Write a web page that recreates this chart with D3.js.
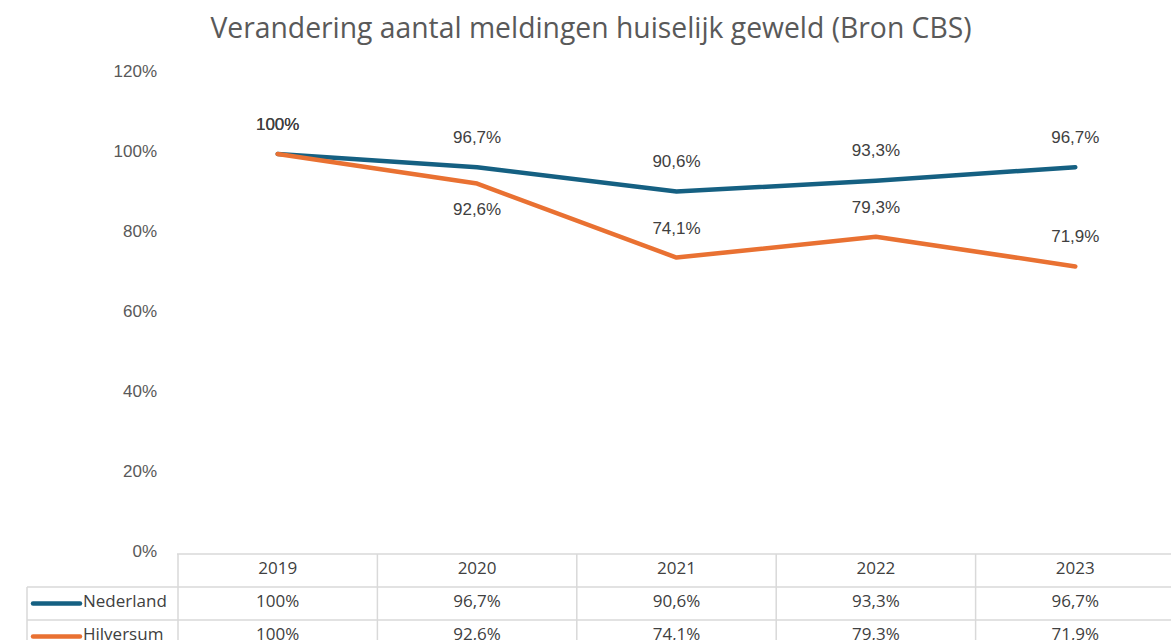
<!DOCTYPE html>
<html><head><meta charset="utf-8">
<script src="https://cdn.jsdelivr.net/npm/d3@7"></script>
<style>body{margin:0;background:#fff}svg{display:block}</style>
</head><body>
<svg id="c" width="1171" height="640"></svg>
<script>
const title = "Verandering aantal meldingen huiselijk geweld (Bron CBS)";
const years = ["2019","2020","2021","2022","2023"];
const nederland = [100, 96.7, 90.6, 93.3, 96.7];
const hilversum = [100, 92.6, 74.1, 79.3, 71.9];
const seriesNames = ["Nederland","Hilversum"];
const yTicks = [0,20,40,60,80,100,120];

(function(){
const svg = d3.select("#c");
const W = 1171, H = 640;
const pLeft = 178, pRight = 1175, pTop = 74, pBottom = 554;
const x = d3.scaleBand().domain(years).range([pLeft, pRight]);
const y = d3.scaleLinear().domain([0,120]).range([pBottom, pTop]);
const fmt = v => (v === 100 ? "100" : d3.format(".1f")(v).replace(".", ",")) + "%";
const colors = ["#156082", "#E97132"];
const series = [nederland, hilversum];

svg.append("text").attr("x", 591).attr("y", 38).attr("text-anchor","middle")
  .attr("font-family","'Open Sans', 'Noto Sans', sans-serif").attr("font-size", 28.3)
  .attr("fill","#595959").text(title);

const yAxis = d3.axisLeft(y).tickValues(yTicks).tickFormat(d => d + "%").tickSize(0).tickPadding(0);
const ga = svg.append("g").attr("transform", `translate(157,-3)`).call(yAxis);
ga.select(".domain").remove();
ga.selectAll("text").attr("font-family","'Liberation Sans', Arial, sans-serif")
  .attr("font-size", 17).attr("fill","#595959").attr("dy","0.35em");

const line = d3.line().x((d,i) => x(years[i]) + x.bandwidth()/2).y(d => y(d));
series.forEach((s, k) => {
  svg.append("path").datum(s).attr("d", line).attr("fill","none")
    .attr("stroke", colors[k]).attr("stroke-width", 4.5)
    .attr("stroke-linejoin","round").attr("stroke-linecap","round");
});

const lblFont = "'Liberation Sans', Arial, sans-serif";
nederland.forEach((v,i) => {
  svg.append("text").attr("x", x(years[i]) + x.bandwidth()/2).attr("y", y(v) - 24.5)
    .attr("text-anchor","middle").attr("font-family", lblFont).attr("font-size", 17)
    .attr("fill","#404040").text(fmt(v));
});
hilversum.forEach((v,i) => {
  const below = i === 1;
  svg.append("text").attr("x", x(years[i]) + x.bandwidth()/2)
    .attr("y", below ? y(v) + 31 : y(v) - 24)
    .attr("text-anchor","middle").attr("font-family", lblFont).attr("font-size", 17)
    .attr("fill","#404040").text(fmt(v));
});

const grid = "#d9d9d9";
const tTop = 554, rowH = 33;
const g = svg.append("g").attr("stroke", grid).attr("stroke-width", 1.5);
g.append("line").attr("x1", pLeft-1).attr("x2", W).attr("y1", tTop).attr("y2", tTop);
[1,2].forEach(r => g.append("line").attr("x1", 27).attr("x2", W).attr("y1", tTop + r*rowH).attr("y2", tTop + r*rowH));
g.append("line").attr("x1", 27).attr("x2", 27).attr("y1", tTop + rowH).attr("y2", H);
years.forEach(yr => g.append("line").attr("x1", x(yr)).attr("x2", x(yr)).attr("y1", tTop).attr("y2", H));

const tFont = "'Open Sans', 'Noto Sans', sans-serif";
years.forEach(yr => {
  svg.append("text").attr("x", x(yr) + x.bandwidth()/2).attr("y", tTop + rowH/2)
    .attr("dy","0.2em").attr("text-anchor","middle").attr("font-family", tFont)
    .attr("font-size", 17).attr("fill","#404040").text(yr);
});
series.forEach((s,k) => {
  const cy = tTop + rowH*(k+1) + rowH/2;
  svg.append("line").attr("x1", 33).attr("x2", 80).attr("y1", cy).attr("y2", cy)
    .attr("stroke", colors[k]).attr("stroke-width", 4.5).attr("stroke-linecap","round");
  svg.append("text").attr("x", 83).attr("y", cy).attr("dy","0.2em")
    .attr("font-family", tFont).attr("font-size", 17).attr("fill","#404040").text(seriesNames[k]);
  s.forEach((v,i) => {
    svg.append("text").attr("x", x(years[i]) + x.bandwidth()/2).attr("y", cy).attr("dy","0.2em")
      .attr("text-anchor","middle").attr("font-family", tFont).attr("font-size", 17)
      .attr("fill","#404040").text(fmt(v));
  });
});
})();
</script>
</body></html>
